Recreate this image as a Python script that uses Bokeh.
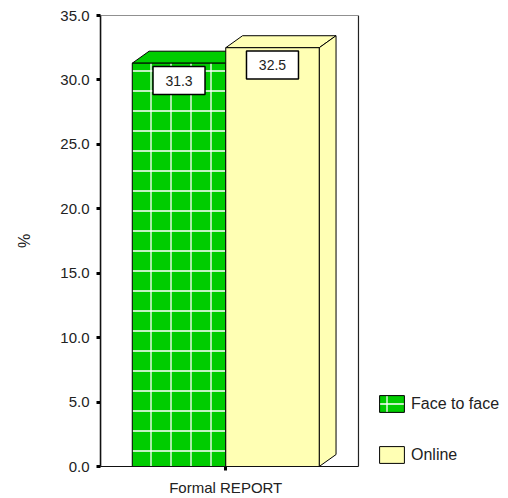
from bokeh.plotting import figure
from bokeh.models import Range1d, FixedTicker, NumeralTickFormatter, Legend, LegendItem, BoxAnnotation
from bokeh.core.properties import value
from bokeh.embed import file_html
from bokeh.resources import INLINE

# --- data -------------------------------------------------------------
category = "Formal REPORT"
series = ["Face to face", "Online"]
percent = [31.3, 32.5]
y_ticks = [0, 5, 10, 15, 20, 25, 30, 35]

# --- style ------------------------------------------------------------
fills = ["#00CC00", "#FFFFB4"]
hatches = ["+", None]
FONT = "Liberation Sans"
TEXT = "#222222"
DX, DY = 0.18, 0.93          # depth of the pseudo-3D bars (x units, % units)
BOX_DROP = 1.35              # value box sits just under the bar top
X0, X_BOX, X_END = -0.34, 2.42, 4.025   # chart box ends at X_BOX, legend lives beyond it

p = figure(width=508, height=498, output_backend="svg", toolbar_location=None,
           x_range=Range1d(X0, X_END), y_range=Range1d(0, 35),
           min_border_left=100, min_border_right=0,
           min_border_top=15, min_border_bottom=30)
p.background_fill_color = "white"
p.border_fill_color = "white"
p.outline_line_color = None
p.xgrid.visible = False
p.ygrid.visible = False

# frame around the bar area only
p.add_layout(BoxAnnotation(left=X0, right=X_BOX, bottom=0, top=35,
                           fill_alpha=0, line_color="#222222", line_alpha=1,
                           line_width=1.2))

# y axis
ya = p.yaxis[0]
ya.ticker = FixedTicker(ticks=y_ticks)
ya.formatter = NumeralTickFormatter(format="0.0")
ya.minor_tick_line_color = None
ya.major_tick_in = 0
ya.major_tick_out = 4
ya.major_tick_line_width = 3
ya.major_tick_line_color = "black"
ya.axis_line_color = "black"
ya.axis_line_width = 1.5
ya.major_label_standoff = 7
ya.major_label_text_font = FONT
ya.major_label_text_font_size = "15px"
ya.major_label_text_color = TEXT
ya.axis_label = "%"
ya.axis_label_text_font = FONT
ya.axis_label_text_font_size = "16px"
ya.axis_label_text_font_style = "normal"
ya.axis_label_text_color = TEXT
ya.axis_label_standoff = 24

# x axis: one category tick between the two bars, line only under the chart box
center = len(series) / 2
xa = p.xaxis[0]
xa.ticker = FixedTicker(ticks=[center])
xa.major_label_overrides = {center: category}
xa.bounds = (X0, X_BOX)
xa.minor_tick_line_color = None
xa.major_tick_in = 0
xa.major_tick_out = 4
xa.major_tick_line_width = 3
xa.major_tick_line_color = "black"
xa.axis_line_color = "black"
xa.axis_line_width = 1.2
xa.major_label_standoff = 8
xa.major_label_text_font = FONT
xa.major_label_text_font_size = "15px"
xa.major_label_text_color = TEXT

items = []
for i, (name, v) in enumerate(zip(series, percent)):
    x0, x1 = i, i + 1
    # top face
    p.patch([x0, x1, x1 + DX, x0 + DX], [v, v, v + DY, v + DY],
            fill_color=fills[i], line_color="black", line_width=1)
    # side face
    p.patch([x1, x1 + DX, x1 + DX, x1], [0, DY, v + DY, v],
            fill_color=fills[i], line_color="black", line_width=1)
    # front face
    kw = dict(fill_color=fills[i], line_color="black", line_width=1)
    if hatches[i]:
        kw.update(hatch_pattern=hatches[i], hatch_color="white",
                  hatch_scale=20, hatch_weight=1.3)
    r = p.quad(left=[x0], right=[x1], bottom=[0], top=[v], **kw)
    items.append(LegendItem(label=name, renderers=[r]))

# value boxes
xc = [i + 0.5 for i in range(len(series))]
yc = [v - BOX_DROP for v in percent]
p.rect(x=xc, y=yc, width=52, height=28, width_units="screen", height_units="screen",
       fill_color="white", line_color="black", line_width=1.5)
p.text(x=xc, y=yc, text=[f"{v:.1f}" for v in percent],
       text_align="center", text_baseline="middle",
       text_font=value(FONT), text_font_size="14px", text_color=TEXT)

legend = Legend(items=items, location=(276, 1), orientation="vertical",
                border_line_color=None, background_fill_alpha=0,
                padding=0, margin=0, spacing=30,
                glyph_width=31, glyph_height=21, label_standoff=4,
                label_text_font=FONT, label_text_font_size="16px",
                label_text_color=TEXT)
p.add_layout(legend, "center")

open("out.html", "w").write(file_html(p, INLINE))
